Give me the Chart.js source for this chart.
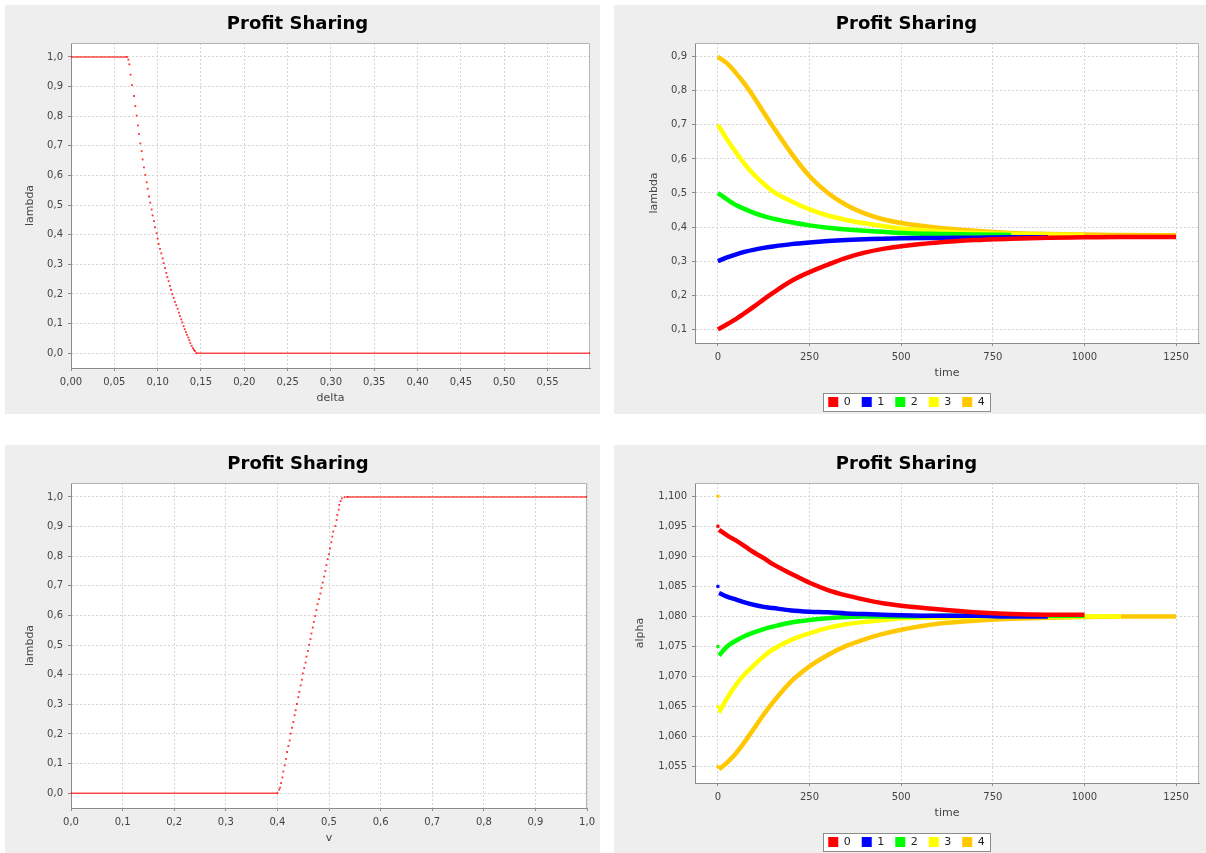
<!DOCTYPE html>
<html>
<head>
<meta charset="utf-8">
<script src="https://cdn.jsdelivr.net/npm/chart.js@4.4.1/dist/chart.umd.min.js"></script>
<style>
  body { margin: 0; background: #fff; width: 1206px; height: 853px; position: relative; overflow: hidden; }
  canvas { position: absolute; }
</style>
</head>
<body>
<canvas id="deltaChart" width="595" height="409" style="left:5px;top:5px"></canvas>
<canvas id="lambdaTimeChart" width="592" height="409" style="left:614px;top:5px"></canvas>
<canvas id="vChart" width="595" height="408" style="left:5px;top:445px"></canvas>
<canvas id="alphaTimeChart" width="592" height="408" style="left:614px;top:445px"></canvas>
<script>
// top left: lambda against delta
const deltaValues = [0, 0.0646, 0.0662, 0.0673, 0.0688, 0.0704, 0.0727, 0.0742, 0.0758, 0.0773, 0.0785, 0.0800,
  0.0815, 0.0827, 0.0842, 0.0858, 0.0873, 0.0885, 0.0900, 0.0915, 0.0931, 0.0942, 0.0958, 0.0969, 0.0988, 0.1000,
  0.1012, 0.1027, 0.1042, 0.1058, 0.1069, 0.1085, 0.1100, 0.1112, 0.1127, 0.1142, 0.1154, 0.1169, 0.1185, 0.1200,
  0.1215, 0.1231, 0.1246, 0.1258, 0.1273, 0.1285, 0.1300, 0.1312, 0.1327, 0.1338, 0.1354, 0.1365, 0.1377, 0.1392,
  0.1408, 0.1419, 0.1431, 0.1446, 0.599];
const lambdaByDelta = [1, 1, 0.991, 0.975, 0.940, 0.905, 0.868, 0.834, 0.802, 0.769, 0.740, 0.708,
  0.682, 0.654, 0.627, 0.602, 0.577, 0.555, 0.529, 0.508, 0.485, 0.465, 0.446, 0.425, 0.405, 0.387,
  0.369, 0.352, 0.337, 0.320, 0.304, 0.287, 0.271, 0.257, 0.243, 0.227, 0.214, 0.199, 0.187, 0.173,
  0.162, 0.150, 0.137, 0.125, 0.114, 0.104, 0.091, 0.081, 0.071, 0.062, 0.053, 0.044, 0.034, 0.025,
  0.017, 0.011, 0.007, 0, 0];
const deltaTicks = [0, 0.05, 0.1, 0.15, 0.2, 0.25, 0.3, 0.35, 0.4, 0.45, 0.5, 0.55];
const lambdaTicks = [0, 0.1, 0.2, 0.3, 0.4, 0.5, 0.6, 0.7, 0.8, 0.9, 1.0];

// bottom left: lambda against v
const vValues = [0, 0.4000, 0.4032, 0.4051, 0.4071, 0.4096, 0.4115, 0.4141, 0.4167, 0.4186, 0.4212, 0.4237,
  0.4256, 0.4282, 0.4308, 0.4333, 0.4353, 0.4378, 0.4404, 0.4423, 0.4449, 0.4474, 0.4494, 0.4519, 0.4545,
  0.4564, 0.4590, 0.4615, 0.4641, 0.4660, 0.4686, 0.4705, 0.4731, 0.4756, 0.4776, 0.4808, 0.4833, 0.4853,
  0.4878, 0.4904, 0.4929, 0.4949, 0.4974, 0.5000, 0.5019, 0.5045, 0.5064, 0.5083, 0.5122, 0.5147, 0.5160,
  0.5186, 0.5199, 0.5224, 0.5250, 0.5301, 0.5353, 1.0];
const lambdaByV = [0, 0, 0.012, 0.019, 0.034, 0.053, 0.073, 0.094, 0.116, 0.139, 0.159, 0.178,
  0.201, 0.221, 0.240, 0.263, 0.280, 0.301, 0.324, 0.342, 0.364, 0.383, 0.404, 0.422, 0.441,
  0.461, 0.480, 0.501, 0.520, 0.539, 0.559, 0.578, 0.598, 0.618, 0.638, 0.655, 0.674, 0.693,
  0.711, 0.731, 0.750, 0.770, 0.790, 0.807, 0.826, 0.847, 0.866, 0.883, 0.902, 0.922, 0.939,
  0.957, 0.973, 0.986, 0.995, 0.999, 1, 1];
const vTicks = [0, 0.1, 0.2, 0.3, 0.4, 0.5, 0.6, 0.7, 0.8, 0.9, 1.0];

// top right: lambda over time, series 0..4 (shorter arrays stop earlier)
const lambdaTimes = [0, 25, 50, 75, 100, 125, 150, 200, 250, 300, 350, 400, 450, 500, 600, 700, 800, 900, 1000, 1100, 1250];
const lambda0 = [0.100, 0.115, 0.131, 0.149, 0.168, 0.188, 0.207, 0.242, 0.268, 0.290, 0.310, 0.325, 0.336, 0.344, 0.355, 0.362, 0.366, 0.369, 0.370, 0.371, 0.371];
const lambda1 = [0.300, 0.311, 0.320, 0.328, 0.334, 0.339, 0.343, 0.350, 0.355, 0.359, 0.362, 0.364, 0.366, 0.367, 0.368, 0.369, 0.370, 0.370];
const lambda2 = [0.500, 0.481, 0.464, 0.452, 0.441, 0.432, 0.425, 0.414, 0.405, 0.398, 0.393, 0.389, 0.386, 0.383, 0.380, 0.378, 0.377];
const lambda3 = [0.700, 0.657, 0.618, 0.582, 0.552, 0.527, 0.505, 0.476, 0.452, 0.434, 0.421, 0.411, 0.403, 0.396, 0.388, 0.383, 0.380, 0.378, 0.377];
const lambda4 = [0.900, 0.880, 0.851, 0.817, 0.778, 0.736, 0.695, 0.617, 0.549, 0.500, 0.465, 0.440, 0.423, 0.412, 0.398, 0.389, 0.383, 0.380, 0.378, 0.377, 0.376];
const timeTicks = [0, 250, 500, 750, 1000, 1250];
const lambdaTimeTicks = [0.1, 0.2, 0.3, 0.4, 0.5, 0.6, 0.7, 0.8, 0.9];

// bottom right: alpha over time, starting values as separate dots
const alphaTimes = [3, 25, 50, 75, 100, 125, 150, 200, 250, 300, 350, 400, 450, 500, 600, 700, 800, 900, 1000, 1100, 1250];
const alpha0 = [1.0944, 1.0935, 1.0926, 1.0916, 1.0906, 1.0897, 1.0887, 1.0871, 1.0856, 1.0844, 1.0835, 1.0828, 1.0822, 1.0818, 1.0812, 1.0807, 1.0804, 1.0803, 1.0803];
const alpha1 = [1.0839, 1.0833, 1.0828, 1.0823, 1.0819, 1.0816, 1.0814, 1.0810, 1.0808, 1.0807, 1.0805, 1.0804, 1.0803, 1.0802, 1.0801, 1.0801, 1.0800, 1.0800];
const alpha2 = [1.0735, 1.0750, 1.0760, 1.0768, 1.0774, 1.0779, 1.0783, 1.0790, 1.0794, 1.0797, 1.0799, 1.0800, 1.0800, 1.0800, 1.0801, 1.0801, 1.0801, 1.0801, 1.0801];
const alpha3 = [1.0640, 1.0664, 1.0687, 1.0705, 1.0720, 1.0734, 1.0745, 1.0761, 1.0772, 1.0781, 1.0787, 1.0791, 1.0794, 1.0797, 1.0798, 1.0799, 1.0800, 1.0800, 1.0800, 1.0800];
const alpha4 = [1.0546, 1.0557, 1.0573, 1.0593, 1.0615, 1.0637, 1.0657, 1.0692, 1.0717, 1.0736, 1.0751, 1.0762, 1.0771, 1.0778, 1.0788, 1.0793, 1.0796, 1.0798, 1.0799, 1.0800, 1.0800];
const alphaStartTimes = [0, 0, 0, 0, 0, 0];
const alphaStartValues = [1.095, 1.085, 1.075, 1.065, 1.055, 1.100];
const alphaTicks = [1.055, 1.060, 1.065, 1.070, 1.075, 1.080, 1.085, 1.090, 1.095, 1.100];

const seriesNames = ["0", "1", "2", "3", "4"];
const seriesColors = ["#ff0000", "#0000ff", "#00ff00", "#ffff00", "#ffc800"];
const startColors = ["#ff0000", "#0000ff", "#00ff00", "#ffff00", "#ffc800", "#ffc800"];

Chart.defaults.font.family = '"DejaVu Sans", sans-serif';
Chart.defaults.color = "#444";

const toPoints = (xs, ys) => ys.map((y, i) => ({ x: xs[i], y: y }));
const comma = (dec) => (v) => v.toFixed(dec).replace(".", ",");

// grey panel, white plot, legend frame, light top/right outline
const panelBackground = {
    id: "panelBackground",
    beforeDraw(chart) {
        const { ctx, chartArea: a } = chart;
        ctx.save();
        ctx.fillStyle = "#eeeeee";
        ctx.fillRect(0, 0, chart.width, chart.height);
        ctx.fillStyle = "#ffffff";
        ctx.fillRect(a.left, a.top, a.right - a.left, a.bottom - a.top);
        const boxes = chart.options.plugins.legend.display ? chart.legend.legendHitBoxes : [];
        if (boxes && boxes.length) {
            const first = boxes[0], last = boxes[boxes.length - 1];
            const cy = first.top + first.height / 2;
            const x0 = Math.round(first.left - 5) + 0.5;
            const x1 = Math.round(last.left + last.width + 5) + 0.5;
            const y0 = Math.round(cy - 9) + 0.5;
            ctx.fillStyle = "#ffffff";
            ctx.fillRect(x0, y0, x1 - x0, 18);
            ctx.strokeStyle = "#8c8c8c";
            ctx.lineWidth = 1;
            ctx.strokeRect(x0, y0, x1 - x0, 18);
        }
        ctx.restore();
    },
    beforeDatasetsDraw(chart) {
        const { ctx, chartArea: a } = chart;
        ctx.save();
        ctx.strokeStyle = "#b4b4b4";
        ctx.lineWidth = 1;
        ctx.beginPath();
        ctx.moveTo(a.left, Math.round(a.top) + 0.5);
        ctx.lineTo(Math.round(a.right) - 0.5, Math.round(a.top) + 0.5);
        ctx.lineTo(Math.round(a.right) - 0.5, a.bottom);
        ctx.stroke();
        ctx.restore();
    },
};

function makeAxis(opts) {
    const horizontal = opts.horizontal;
    return {
        type: "linear",
        min: opts.min,
        max: opts.max,
        afterBuildTicks: (axis) => { axis.ticks = opts.ticks.map((value) => ({ value })); },
        afterFit: (axis) => { if (horizontal) axis.height = opts.size; else axis.width = opts.size; },
        grid: {
            color: "#d4d4d4",
            drawTicks: true,
            tickLength: 3,
            tickColor: "#8c8c8c",
            tickBorderDash: [],
        },
        border: { display: true, color: "#8c8c8c", width: 1, dash: [2, 2] },
        ticks: {
            autoSkip: false,
            maxRotation: 0,
            padding: 5,
            color: "#444",
            font: { size: 10 },
            callback: comma(opts.decimals),
        },
        title: {
            display: true,
            text: opts.title,
            color: "#444",
            font: { size: 11 },
            padding: horizontal ? { top: 0, bottom: opts.titlePad } : { top: opts.titlePad, bottom: 0 },
        },
    };
}

function baseOptions(padding, legend) {
    return {
        responsive: false,
        animation: false,
        events: [],
        layout: { padding: padding, autoPadding: false },
        plugins: {
            title: {
                display: true,
                text: "Profit Sharing",
                color: "#000",
                font: { size: 18, weight: "bold" },
                padding: { top: 9, bottom: 7.4 },
            },
            tooltip: { enabled: false },
            legend: legend || { display: false },
        },
    };
}

const seriesLegend = {
    display: true,
    position: "bottom",
    maxHeight: 22,
    labels: {
        boxWidth: 10,
        boxHeight: 10,
        padding: 11,
        color: "#222",
        font: { size: 11 },
        filter: (item) => item.datasetIndex < 5,
        generateLabels: (chart) =>
            Chart.defaults.plugins.legend.labels.generateLabels(chart).map((l) => ({ ...l, lineWidth: 0 })),
    },
};

function dotDataset(xs, ys) {
    return {
        data: toPoints(xs, ys),
        showLine: true,
        borderWidth: 1.5,
        segment: {
            borderColor: (c) => (c.p0.parsed.y === c.p1.parsed.y ? "rgba(255,30,30,0.8)" : "rgba(0,0,0,0)"),
        },
        pointStyle: "rect",
        pointRadius: 1.3,
        pointBorderWidth: 0,
        pointBackgroundColor: "rgba(255,0,0,0.8)",
    };
}

function seriesDataset(i, xs, ys) {
    return {
        label: seriesNames[i],
        data: toPoints(xs, ys),
        showLine: true,
        borderColor: seriesColors[i],
        backgroundColor: seriesColors[i],
        borderWidth: 4.5,
        pointRadius: 0,
        cubicInterpolationMode: "monotone",
    };
}

new Chart(document.getElementById("deltaChart"), {
    type: "scatter",
    data: { datasets: [dotDataset(deltaValues, lambdaByDelta)] },
    options: {
        ...baseOptions({ left: 0, right: 10, top: 0, bottom: 0 }),
        scales: {
            x: makeAxis({ horizontal: true, min: 0, max: 0.599, ticks: deltaTicks, decimals: 2, title: "delta", titlePad: 9.4, size: 46 }),
            y: makeAxis({ horizontal: false, min: -0.05, max: 1.047, ticks: lambdaTicks, decimals: 1, title: "lambda", titlePad: 18.4, size: 66 }),
        },
    },
    plugins: [panelBackground],
});

new Chart(document.getElementById("vChart"), {
    type: "scatter",
    data: { datasets: [dotDataset(vValues, lambdaByV)] },
    options: {
        ...baseOptions({ left: 0, right: 9, top: 0, bottom: 0 }),
        scales: {
            x: makeAxis({ horizontal: true, min: 0, max: 1.0, ticks: vTicks, decimals: 1, title: "v", titlePad: 8.4, size: 45 }),
            y: makeAxis({ horizontal: false, min: -0.05, max: 1.047, ticks: lambdaTicks, decimals: 1, title: "lambda", titlePad: 18.4, size: 66 }),
        },
    },
    plugins: [panelBackground],
});

new Chart(document.getElementById("lambdaTimeChart"), {
    type: "scatter",
    data: {
        datasets: [lambda0, lambda1, lambda2, lambda3, lambda4].map((ys, i) => seriesDataset(i, lambdaTimes, ys)),
    },
    options: {
        ...baseOptions({ left: 0, right: 7, top: 0, bottom: 6.5 }, seriesLegend),
        scales: {
            x: makeAxis({ horizontal: true, min: -62.5, max: 1312.5, ticks: timeTicks, decimals: 0, title: "time", titlePad: 5.9, size: 42.5 }),
            y: makeAxis({ horizontal: false, min: 0.06, max: 0.94, ticks: lambdaTimeTicks, decimals: 1, title: "lambda", titlePad: 33.4, size: 81 }),
        },
    },
    plugins: [panelBackground],
});

const alphaDatasets = [alpha0, alpha1, alpha2, alpha3, alpha4].map((ys, i) => seriesDataset(i, alphaTimes, ys));
alphaDatasets.push({
    label: "start",
    data: toPoints(alphaStartTimes, alphaStartValues),
    showLine: false,
    pointStyle: "rect",
    pointRadius: 2.2,
    pointBorderWidth: 0,
    pointBackgroundColor: startColors,
});

new Chart(document.getElementById("alphaTimeChart"), {
    type: "scatter",
    data: { datasets: alphaDatasets },
    options: {
        ...baseOptions({ left: 0, right: 7, top: 0, bottom: 5.5 }, seriesLegend),
        scales: {
            x: makeAxis({ horizontal: true, min: -62.5, max: 1312.5, ticks: timeTicks, decimals: 0, title: "time", titlePad: 5.9, size: 42.5 }),
            y: makeAxis({ horizontal: false, min: 1.0523, max: 1.1022, ticks: alphaTicks, decimals: 3, title: "alpha", titlePad: 19.4, size: 81 }),
        },
    },
    plugins: [panelBackground],
});
</script>
</body>
</html>
